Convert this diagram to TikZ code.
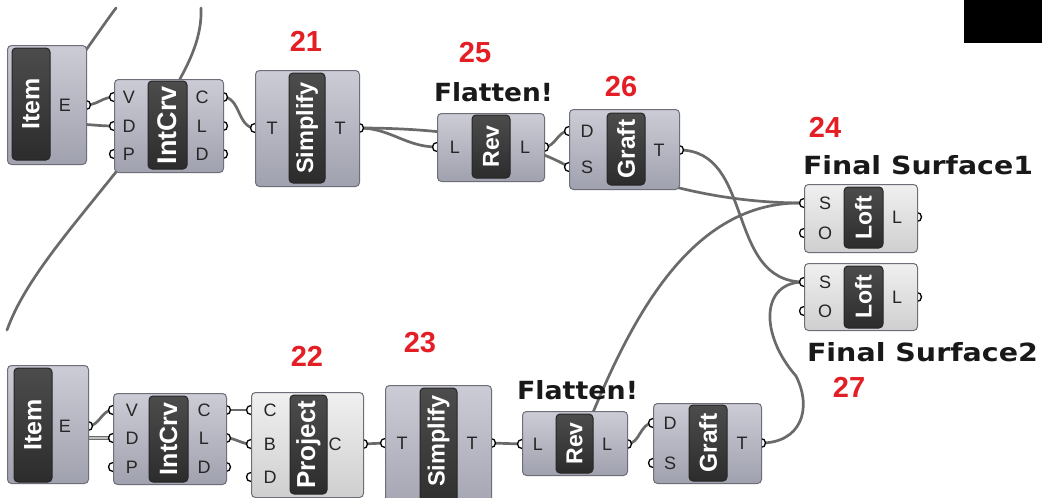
\documentclass[tikz,border=0pt]{standalone}
\usepackage{fontspec}
\setmainfont{Liberation Sans}
\newfontfamily\comicf{DejaVu Sans}
\usepackage{graphicx}
\definecolor{wirec}{HTML}{6A6A6A}
\definecolor{boxline}{HTML}{6D6E78}
\definecolor{numred}{HTML}{E31E25}
\definecolor{btop}{HTML}{CBCCD5}
\definecolor{bmid}{HTML}{ABACB9}
\definecolor{bbot}{HTML}{A0A1AE}
\definecolor{ltop}{HTML}{F0F0F0}
\definecolor{lmid}{HTML}{E0E0E0}
\definecolor{lbot}{HTML}{CFCFCF}
\definecolor{ctop}{HTML}{4C4C4C}
\definecolor{cbot}{HTML}{2C2C2C}
\tikzset{
  wire/.style={draw=wirec, line width=2.7pt, line cap=round},
  port/.style={circle, draw=black, fill=white, line width=1.3pt, inner sep=0pt, minimum size=9pt},
  gbox/.style={draw=boxline, line width=1pt, rounded corners=4pt, top color=btop, middle color=bmid, bottom color=bbot, inner sep=0pt, anchor=north west},
  lbox/.style={draw=boxline, line width=1pt, rounded corners=4pt, top color=ltop, middle color=lmid, bottom color=lbot, inner sep=0pt, anchor=north west},
  capsule/.style={draw=black!85, line width=1pt, rounded corners=4pt, top color=ctop, bottom color=cbot, text=white, inner sep=0pt},
  plabel/.style={font=\fontsize{18}{18}\selectfont, text=black!85, inner sep=0pt},
  num/.style={font=\bfseries\fontsize{29}{29}\selectfont, text=numred, inner sep=0pt},
  note/.style={font=\comicf\bfseries\fontsize{25}{25}\selectfont, text=black!90, inner sep=0pt},
}
\newcommand\gnode[6]{\node[#6, minimum width={(#4-#2)*1pt}, minimum height={(#5-#3)*1pt}] (#1) at (#2,#3) {};}
\newcommand\gcap[7]{\node[capsule, minimum width={(#4-#2)*1pt}, minimum height={(#5-#3)*1pt}, font=\bfseries\fontsize{#7}{#7}\selectfont] (#1) at ({(#2+#4)/2},{(#3+#5)/2}) {\rotatebox{90}{#6}};}
\newcommand\notetext[2]{\resizebox{#1pt}{\height}{#2}}
\begin{document}
\begin{tikzpicture}[x=1pt,y=-1pt]
\useasboundingbox (0,0) rectangle (1042,498);
\clip (0,0) rectangle (1042,498);
\fill[white] (0,0) rectangle (1042,498);
\node[fill=black, anchor=north west, minimum width=78pt, minimum height=43pt, inner sep=0pt] (blk) at (964,0) {};

% ---------- port coordinates ----------
\coordinate (it1E) at (86,105);
\coordinate (ic1V) at (114,97); \coordinate (ic1D) at (114,126); \coordinate (ic1P) at (114,154);
\coordinate (ic1C) at (223,97); \coordinate (ic1L) at (223,126); \coordinate (ic1Do) at (223,154);
\coordinate (sp1Ti) at (255,128); \coordinate (sp1To) at (359,128);
\coordinate (rv1Li) at (437,147); \coordinate (rv1Lo) at (544,147);
\coordinate (gr1D) at (569,131); \coordinate (gr1S) at (569,167); \coordinate (gr1T) at (679,150);
\coordinate (lf1S) at (804,203); \coordinate (lf1O) at (804,233); \coordinate (lf1L) at (917,217);
\coordinate (lf2S) at (804,282); \coordinate (lf2O) at (804,311); \coordinate (lf2L) at (917,297);
\coordinate (it2E) at (88,426);
\coordinate (ic2V) at (113,410); \coordinate (ic2D) at (113,438); \coordinate (ic2P) at (113,467);
\coordinate (ic2C) at (226,410); \coordinate (ic2L) at (226,438); \coordinate (ic2Do) at (226,467);
\coordinate (pjC) at (251,410); \coordinate (pjB) at (251,444); \coordinate (pjD) at (251,477); \coordinate (pjCo) at (363,444);
\coordinate (sp2Ti) at (385,443); \coordinate (sp2To) at (491,443);
\coordinate (rv2Li) at (522,444); \coordinate (rv2Lo) at (627,444);
\coordinate (gr2D) at (653,423); \coordinate (gr2S) at (653,463); \coordinate (gr2T) at (761,443);
% hidden wire ends
\coordinate (h1) at (76,64);   \coordinate (e1) at (116,8);
\coordinate (h2) at (170,96);  \coordinate (e2) at (201,8);
\coordinate (h3) at (124,162); \coordinate (e3) at (7,330);
\coordinate (h4) at (72,124);
\coordinate (h5) at (72,438);
\coordinate (h6) at (650,180);
\coordinate (h7) at (585,432);
\coordinate (w5) at (796,376);

% ---------- wires ----------
\draw[wire] (h1) .. controls (92,42) and (104,24) .. (e1);
\draw[wire] (h2) .. controls (192,60) and (202,35) .. (e2);
\draw[wire] (h3) .. controls (70,230) and (25,280) .. (e3);
\draw[wire] (it1E) to[out=0,in=180] (ic1V);
\draw[wire] (h4) to[out=0,in=180] (ic1D);
\draw[wire] (ic1C) to[out=0,in=180] (sp1Ti);
\draw[wire] (sp1To) to[out=0,in=180] (rv1Li);
\draw[wire] (sp1To) .. controls (470,128) and (535,147) .. (gr1S);
\draw[wire] (rv1Lo) to[out=0,in=180] (gr1D);
\draw[wire] (h6) .. controls (700,195) and (750,203) .. (lf1S);
\draw[wire] (gr1T) .. controls (755,150) and (725,282) .. (lf2S);
\draw[wire] (h7) .. controls (630,320) and (690,200) .. (lf1S);
\draw[wire] (gr2T) .. controls (800,443) and (813,410) .. (w5) .. controls (760,335) and (760,282) .. (lf2S);
\draw[wire] (it2E) to[out=0,in=180] (ic2V);
\draw[wire, line width=1.4pt, double=black!25, double distance=1.4pt] (h5) -- (ic2D);
\draw[wire] (ic2C) -- (pjC);
\draw[wire] (ic2L) to[out=0,in=180] (pjB);
\draw[wire] (pjCo) -- (sp2Ti);
\draw[wire] (sp2To) -- (rv2Li);
\draw[wire] (rv2Lo) to[out=0,in=180] (gr2D);

% ---------- ports ----------
\foreach \p in {it1E,ic1V,ic1D,ic1P,ic1C,ic1L,ic1Do,sp1Ti,sp1To,rv1Li,rv1Lo,gr1D,gr1S,gr1T,lf1S,lf1O,lf1L,lf2S,lf2O,lf2L,it2E,ic2V,ic2D,ic2P,ic2C,ic2L,ic2Do,pjC,pjB,pjD,pjCo,sp2Ti,sp2To,rv2Li,rv2Lo,gr2D,gr2S,gr2T}
  \node[port] (\p-p) at (\p) {};

% ---------- component boxes ----------
\gnode{it1}{7}{45}{86}{164}{gbox}
\gnode{ic1}{114}{79}{223}{172}{gbox}
\gnode{sp1}{255}{70}{359}{186}{gbox}
\gnode{rv1}{437}{113}{544}{181}{gbox}
\gnode{gr1}{569}{109}{679}{189}{gbox}
\gnode{lf1}{804}{184}{917}{252}{lbox}
\gnode{lf2}{804}{263}{917}{330}{lbox}
\gnode{it2}{7}{365}{88}{483}{gbox}
\gnode{ic2}{113}{393}{226}{484}{gbox}
\gnode{pj}{251}{392}{363}{497}{lbox}
\gnode{sp2}{385}{385}{491}{520}{gbox}
\gnode{rv2}{522}{411}{627}{475}{gbox}
\gnode{gr2}{653}{403}{761}{483}{gbox}

% ---------- capsules ----------
\gcap{it1c}{12}{48}{50}{160}{Item}{25}
\gcap{ic1c}{148}{81}{187}{169}{IntCrv}{27}
\gcap{sp1c}{289}{73}{325}{183}{Simplify}{23.5}
\gcap{rv1c}{472}{115}{510}{178}{Rev}{23}
\gcap{gr1c}{607}{113}{645}{185}{Graft}{24.5}
\gcap{lf1c}{844}{187}{883}{248}{Loft}{23}
\gcap{lf2c}{844}{266}{883}{328}{Loft}{23}
\gcap{it2c}{14}{368}{52}{482}{Item}{25}
\gcap{ic2c}{149}{396}{188}{482}{IntCrv}{25}
\gcap{pjc}{290}{395}{327}{494}{Project}{26}
\gcap{sp2c}{420}{388}{457}{520}{}{23.5}
\node[text=white, font=\bfseries\fontsize{23.5}{23.5}\selectfont, inner sep=0pt] (sp2t) at (438.5,441) {\rotatebox{90}{Simplify}};
\gcap{rv2c}{556}{414}{593}{473}{Rev}{23}
\gcap{gr2c}{689}{405}{727}{481}{Graft}{24.5}

% ---------- port labels ----------
\node[plabel] (l1) at (65,105) {E};
\node[plabel] (l2) at (129,97) {V};
\node[plabel] (l3) at (129,126) {D};
\node[plabel] (l4) at (129,154) {P};
\node[plabel] (l5) at (202,97) {C};
\node[plabel] (l6) at (202,126) {L};
\node[plabel] (l7) at (202,154) {D};
\node[plabel] (l8) at (272,128) {T};
\node[plabel] (l9) at (340,128) {T};
\node[plabel] (l10) at (455,147) {L};
\node[plabel] (l11) at (525,147) {L};
\node[plabel] (l12) at (587,131) {D};
\node[plabel] (l13) at (587,167) {S};
\node[plabel] (l14) at (659,150) {T};
\node[plabel] (l15) at (825,203) {S};
\node[plabel] (l16) at (825,233) {O};
\node[plabel] (l17) at (897,217) {L};
\node[plabel] (l18) at (825,282) {S};
\node[plabel] (l19) at (825,311) {O};
\node[plabel] (l20) at (897,297) {L};
\node[plabel] (l21) at (65,426) {E};
\node[plabel] (l22) at (132,410) {V};
\node[plabel] (l23) at (132,438) {D};
\node[plabel] (l24) at (132,467) {P};
\node[plabel] (l25) at (204,410) {C};
\node[plabel] (l26) at (204,438) {L};
\node[plabel] (l27) at (204,467) {D};
\node[plabel] (l28) at (270,410) {C};
\node[plabel] (l29) at (270,444) {B};
\node[plabel] (l30) at (270,477) {D};
\node[plabel] (l31) at (335,444) {C};
\node[plabel] (l32) at (402,443) {T};
\node[plabel] (l33) at (472,443) {T};
\node[plabel] (l34) at (538,444) {L};
\node[plabel] (l35) at (607,444) {L};
\node[plabel] (l36) at (670,423) {D};
\node[plabel] (l37) at (670,463) {S};
\node[plabel] (l38) at (742,443) {T};

% ---------- notes ----------
\node[note] (n1) at (493.5,92) {\notetext{119}{Flatten!}};
\node[note] (n2) at (577.5,390) {\notetext{121}{Flatten!}};
\node[note] (n3) at (918,165) {\notetext{230}{Final Surface1}};
\node[note] (n4) at (922.5,352) {\notetext{231}{Final Surface2}};

% ---------- numbers ----------
\node[num] (k21) at (306,41) {21};
\node[num] (k25) at (475,53) {25};
\node[num] (k26) at (621,87) {26};
\node[num] (k24) at (825,127) {24};
\node[num] (k22) at (307,356) {22};
\node[num] (k23) at (420,343) {23};
\node[num] (k27) at (849,387) {27};
\end{tikzpicture}
\end{document}
